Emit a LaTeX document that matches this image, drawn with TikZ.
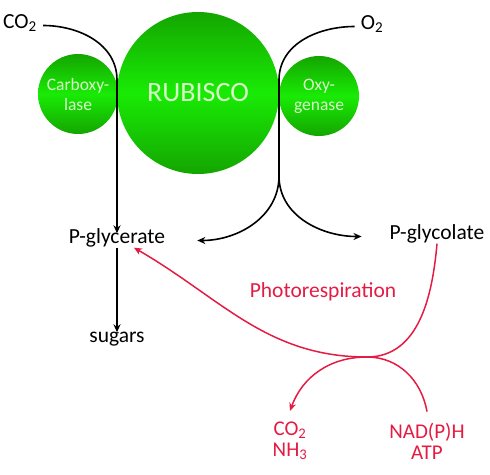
\documentclass[tikz,border=0pt]{standalone}
\usepackage{fontspec}
\setmainfont{Carlito}
\usepackage{tikz}
\usetikzlibrary{positioning, arrows.meta}
\definecolor{enzdark}{RGB}{20,165,0}
\definecolor{enzlight}{RGB}{25,235,5}
\definecolor{enztext}{RGB}{215,250,200}
\definecolor{photored}{RGB}{228,28,68}
\tikzset{
  lbl/.style={font=\fontsize{21.5}{18.5}\selectfont, inner sep=2pt, text height=0.75em, text depth=0.25em},
  redlbl/.style={font=\fontsize{21}{21}\selectfont, inner sep=1pt, text=photored, align=center},
  enzyme/.style={circle, top color=enzdark, bottom color=enzdark, middle color=enzlight, text=enztext, inner sep=0pt, align=center},
  flow/.style={line width=1.6pt, -{Stealth[length=8pt,width=7pt]}},
  redflow/.style={photored, line width=1.5pt, -{Stealth[length=8pt,width=7pt]}}
}
\begin{document}
\begin{tikzpicture}[x=1pt, y=1pt]
\useasboundingbox (0,0) rectangle (490,-474);
\node[enzyme, minimum size=162pt, font=\fontsize{28}{30}\selectfont] (rubisco) at (198,-93) {RUBISCO};
\node[enzyme, minimum size=80pt, font=\fontsize{17.5}{20}\selectfont] (carbox) at (78,-94) {Carboxy-\\lase};
\node[enzyme, minimum size=80pt, font=\fontsize{17.5}{20}\selectfont] (oxygen) at (319,-96) {Oxy-\\genase};

\node[lbl, anchor=base, inner xsep=6pt] (co2in) at (20,-28) {CO\textsubscript{2}};
\node[lbl, anchor=base, inner xsep=6pt] (o2in) at (372,-29) {O\textsubscript{2}};
\node[lbl, anchor=base] (pglyce) at (117,-243) {P-glycerate};
\node[lbl, anchor=base] (sugars) at (117,-342) {sugars};
\node[lbl, anchor=base] (pglyco) at (437,-239) {P-glycolate};
\node[lbl, anchor=base, text=photored] (photo) at (323,-297) {Photorespiration};
\node[redlbl] (lossout) at (290,-441) {CO\textsubscript{2}\\NH\textsubscript{3}};
\node[redlbl] (energyin) at (427,-441) {NAD(P)H\\ATP};

\coordinate (ctan) at (117,-80);
\coordinate (otan) at (279,-80);
\coordinate (ofork) at (279,-176);
\coordinate (cusp) at (367,-357);

\draw[flow] (co2in.east) to[out=0,in=90] (ctan) -- (pglyce.north);
\draw[line width=1.6pt] (o2in.west) to[out=180,in=90] (otan) -- (ofork);
\draw[flow] (ofork) to[out=-90,in=0] ([xshift=30pt]pglyce.east);
\draw[flow] (ofork) to[out=-90,in=180] ([xshift=-26pt]pglyco.west);
\draw[flow] (pglyce.south) -- (sugars.north);
\draw[redflow] (pglyco.south) to[out=-95,in=0] (cusp) to[out=180,in=-30] (pglyce.-23);
\draw[redflow] ([yshift=10pt]energyin.north) to[out=100,in=0] (cusp) to[out=180,in=70] ([yshift=10pt]lossout.north);
\end{tikzpicture}
\end{document}
